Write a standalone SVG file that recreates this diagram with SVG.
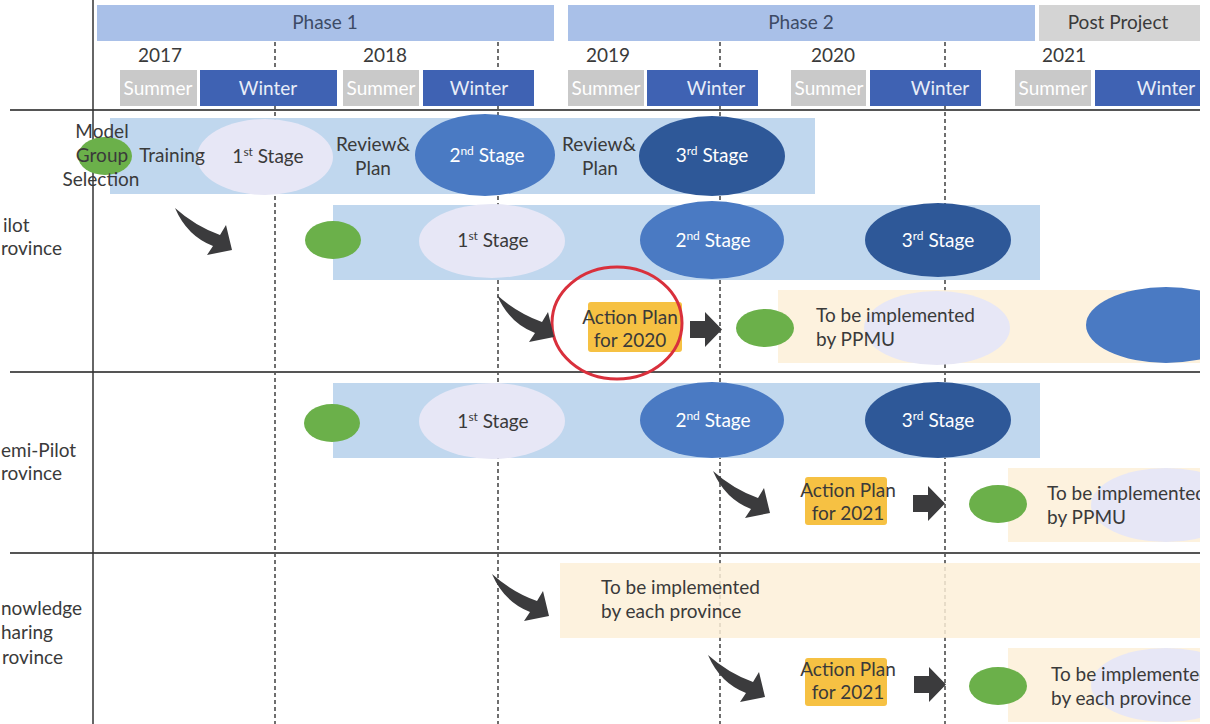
<svg xmlns="http://www.w3.org/2000/svg" width="1210" height="724" viewBox="0 0 1210 724">
<defs>
<style>
text{font-family:Lato,'Open Sans','Liberation Sans',sans-serif;font-size:19px;fill:#3a3a3a}
.c{text-anchor:middle}
.ph{fill:#3d4b66}
.phase{fill:#a9c0e8}
.post{fill:#d4d4d4}
.summer{fill:#c9c9c9}
.winter{fill:#3f62b3}
.wt{fill:#ffffff}
.wt2{fill:#e8edf8}
.band{fill:#b9d3ec;opacity:.9}
.yel{fill:#fdf0d8;opacity:.85}
.s1{fill:#e7e7f6}
.s2{fill:#4a7ac3}
.s3{fill:#2e5898}
.grn{fill:#6bb04a}
.org{fill:#f6c143}
.hl{stroke:#555;stroke-width:2}
.dash{stroke:#222;stroke-width:1.3;stroke-dasharray:4 3}
.arr{fill:#3b3b3d}
.sup{font-size:12px}
</style>
<path id="curv" d="M0,0 Q20,18 45,27 L51,17 L57,42 L32,47 L38,38 Q12,28 0,0 Z"/>
<path id="rarr" d="M0,9 H15 V0 L32,17.5 L15,35 V26 H0 Z"/>
<clipPath id="clip"><rect x="0" y="0" width="1200" height="724"/></clipPath>
</defs>
<rect x="0" y="0" width="1210" height="724" fill="#ffffff"/>
<g clip-path="url(#clip)">
<g id="grid">
<line class="dash" x1="275" y1="42" x2="275" y2="724"/>
<line class="dash" x1="498" y1="42" x2="498" y2="724"/>
<line class="dash" x1="720" y1="42" x2="720" y2="724"/>
<line class="dash" x1="945" y1="42" x2="945" y2="724"/>
<line class="hl" x1="10" y1="110" x2="1200" y2="110"/>
<line class="hl" x1="10" y1="372" x2="1200" y2="372"/>
<line class="hl" x1="10" y1="553" x2="1200" y2="553"/>
<line x1="93" y1="0" x2="93" y2="724" stroke="#333" stroke-width="1.5"/>
</g>
<g id="header">
<rect class="phase" x="97" y="5" width="457" height="36"/>
<text class="c ph" x="325" y="29">Phase 1</text>
<rect class="phase" x="568" y="5" width="467" height="36"/>
<text class="c ph" x="801" y="29">Phase 2</text>
<rect class="post" x="1039" y="5" width="161" height="36"/>
<text class="c" x="1118" y="29">Post Project</text>
<text class="c" x="160" y="62">2017</text>
<text class="c" x="385" y="62">2018</text>
<text class="c" x="608" y="62">2019</text>
<text class="c" x="833" y="62">2020</text>
<text class="c" x="1064" y="62">2021</text>
<rect class="summer" x="120" y="70" width="77" height="36"/>
<text class="c wt" x="158" y="95">Summer</text>
<rect class="winter" x="200" y="70" width="137" height="36"/>
<text class="c wt2" x="268" y="95">Winter</text>
<rect class="summer" x="343" y="70" width="76" height="36"/>
<text class="c wt" x="381" y="95">Summer</text>
<rect class="winter" x="423" y="70" width="111" height="36"/>
<text class="c wt2" x="479" y="95">Winter</text>
<rect class="summer" x="568" y="70" width="76" height="36"/>
<text class="c wt" x="606" y="95">Summer</text>
<rect class="winter" x="647" y="70" width="111" height="36"/>
<text class="c wt2" x="716" y="95">Winter</text>
<rect class="summer" x="791" y="70" width="75" height="36"/>
<text class="c wt" x="829" y="95">Summer</text>
<rect class="winter" x="870" y="70" width="111" height="36"/>
<text class="c wt2" x="940" y="95">Winter</text>
<rect class="summer" x="1015" y="70" width="76" height="36"/>
<text class="c wt" x="1053" y="95">Summer</text>
<rect class="winter" x="1095" y="70" width="105" height="36"/>
<text class="c wt2" x="1166" y="95">Winter</text>
</g>
<g id="labels">
<text x="3" y="232">ilot</text>
<text x="1" y="255">rovince</text>
<text x="1" y="457">emi-Pilot</text>
<text x="1" y="480">rovince</text>
<text x="1" y="615">nowledge</text>
<text x="1" y="639">haring</text>
<text x="2" y="664">rovince</text>
</g>
<g id="model-row">
<rect class="band" x="110" y="118" width="705" height="76"/>
<ellipse class="grn" cx="105" cy="156" rx="27" ry="19"/>
<text class="c" x="102" y="138">Model</text>
<text class="c" x="102" y="162">Group</text>
<text class="c" x="101" y="186">Selection</text>
<ellipse class="s1" cx="265" cy="157" rx="68" ry="38"/>
<text class="c" x="172" y="162">Training</text>
<text class="c" x="268" y="163">1<tspan class="sup" dy="-7">st</tspan><tspan dy="7"> Stage</tspan></text>
<text class="c" x="373" y="151">Review&amp;</text>
<text class="c" x="373" y="175">Plan</text>
<ellipse class="s2" cx="485" cy="155" rx="70" ry="41"/>
<text class="c wt" x="487" y="162">2<tspan class="sup" dy="-7">nd</tspan><tspan dy="7"> Stage</tspan></text>
<text class="c" x="599" y="151">Review&amp;</text>
<text class="c" x="600" y="175">Plan</text>
<ellipse class="s3" cx="712" cy="156" rx="73" ry="40"/>
<text class="c wt" x="712" y="162">3<tspan class="sup" dy="-7">rd</tspan><tspan dy="7"> Stage</tspan></text>
</g>
<g id="pilot-row">
<rect class="band" x="333" y="205" width="707" height="75"/>
<ellipse class="grn" cx="333" cy="240" rx="28" ry="19"/>
<ellipse class="s1" cx="492" cy="241" rx="73" ry="37"/>
<text class="c" x="493" y="247">1<tspan class="sup" dy="-7">st</tspan><tspan dy="7"> Stage</tspan></text>
<ellipse class="s2" cx="712" cy="240" rx="72" ry="39"/>
<text class="c wt" x="713" y="247">2<tspan class="sup" dy="-7">nd</tspan><tspan dy="7"> Stage</tspan></text>
<ellipse class="s3" cx="938" cy="240" rx="73" ry="37"/>
<text class="c wt" x="938" y="247">3<tspan class="sup" dy="-7">rd</tspan><tspan dy="7"> Stage</tspan></text>
</g>
<g id="pilot-plan">
<rect class="org" x="588" y="302" width="94" height="50" rx="3"/>
<text class="c" x="630" y="324">Action Plan</text>
<text class="c" x="630" y="347">for 2020</text>
<ellipse cx="617" cy="323" rx="65" ry="56" fill="none" stroke="#d9303c" stroke-width="3"/>
</g>
<g id="pilot-ppmu">
<rect class="yel" x="778" y="290" width="422" height="73"/>
<ellipse class="s1" cx="937" cy="328" rx="73" ry="37"/>
<ellipse class="s2" cx="1166" cy="325" rx="80" ry="38"/>
<ellipse class="grn" cx="765" cy="328" rx="29" ry="19"/>
<text x="816" y="322">To be implemented</text>
<text x="816" y="346">by PPMU</text>
</g>
<g id="semi-row">
<rect class="band" x="333" y="383" width="707" height="75"/>
<ellipse class="grn" cx="332" cy="423" rx="28" ry="19"/>
<ellipse class="s1" cx="492" cy="421" rx="73" ry="38"/>
<text class="c" x="493" y="428">1<tspan class="sup" dy="-7">st</tspan><tspan dy="7"> Stage</tspan></text>
<ellipse class="s2" cx="712" cy="420" rx="72" ry="38"/>
<text class="c wt" x="713" y="427">2<tspan class="sup" dy="-7">nd</tspan><tspan dy="7"> Stage</tspan></text>
<ellipse class="s3" cx="938" cy="420" rx="73" ry="38"/>
<text class="c wt" x="938" y="427">3<tspan class="sup" dy="-7">rd</tspan><tspan dy="7"> Stage</tspan></text>
</g>
<g id="semi-plan">
<rect class="org" x="805" y="477" width="82" height="48" rx="3"/>
<text class="c" x="848" y="497">Action Plan</text>
<text class="c" x="848" y="520">for 2021</text>
</g>
<g id="semi-ppmu">
<rect class="yel" x="1008" y="468" width="192" height="74"/>
<ellipse class="s1" cx="1166" cy="505" rx="75" ry="37"/>
<ellipse class="grn" cx="998" cy="504" rx="29" ry="19"/>
<text x="1047" y="500">To be implemented</text>
<text x="1047" y="524">by PPMU</text>
</g>
<g id="knowledge-row">
<rect class="yel" x="560" y="563" width="640" height="75"/>
<text x="601" y="594">To be implemented</text>
<text x="601" y="618">by each province</text>
</g>
<g id="knowledge-plan">
<rect class="org" x="805" y="658" width="82" height="48" rx="3"/>
<text class="c" x="848" y="676">Action Plan</text>
<text class="c" x="848" y="699">for 2021</text>
</g>
<g id="knowledge-impl">
<rect class="yel" x="1008" y="648" width="192" height="74"/>
<ellipse class="s1" cx="1166" cy="685" rx="75" ry="37"/>
<ellipse class="grn" cx="998" cy="686" rx="29" ry="19"/>
<text x="1051" y="681">To be implemented</text>
<text x="1051" y="705">by each province</text>
</g>
<g id="connectors" class="arr">
<use href="#curv" transform="translate(175,208)"/>
<use href="#curv" transform="translate(497,295)"/>
<use href="#curv" transform="translate(713,471)"/>
<use href="#curv" transform="translate(492,574)"/>
<use href="#curv" transform="translate(708,655)"/>
<use href="#rarr" transform="translate(690,312)"/>
<use href="#rarr" transform="translate(913,486)"/>
<use href="#rarr" transform="translate(914,667)"/>
</g>
</g>
</svg>
